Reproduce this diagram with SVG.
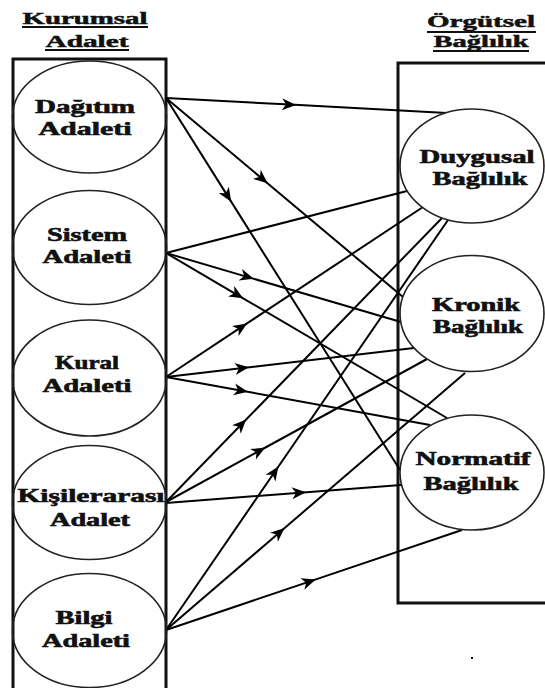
<svg xmlns="http://www.w3.org/2000/svg" width="545" height="688" viewBox="0 0 545 688">
<style>
.t{font-family:"Liberation Serif","Times New Roman",serif;font-weight:bold;font-size:18.5px;fill:#111;stroke:#111;stroke-width:0.6;text-anchor:middle}
.h{font-family:"Liberation Serif","Times New Roman",serif;font-weight:bold;font-size:17px;fill:#111;stroke:#111;stroke-width:0.5;text-anchor:middle}
.box{fill:none;stroke:#111;stroke-width:3}
.el{fill:none;stroke:#222;stroke-width:1.6}
.ul{stroke:#111;stroke-width:2}
.c{fill:none;stroke:#000;stroke-width:2;marker-mid:url(#ah)}
.n{fill:none;stroke:#000;stroke-width:2}
</style>
<defs>
<marker id="ah" viewBox="-9 -7 16 14" refX="0" refY="0" markerWidth="16" markerHeight="14" markerUnits="userSpaceOnUse" orient="auto">
<path d="M6,0 L-8,-6 L-4,0 L-8,6 Z" fill="#000"/>
</marker>
</defs>
<rect width="545" height="688" fill="#fff"/>
<g id="title-left">
<text class="h" x="85" y="24" textLength="125" lengthAdjust="spacingAndGlyphs">Kurumsal</text>
<line class="ul" x1="22" y1="27" x2="148" y2="27"/>
<text class="h" x="87" y="47" textLength="83" lengthAdjust="spacingAndGlyphs">Adalet</text>
<line class="ul" x1="45" y1="50" x2="129" y2="50"/>
</g>
<g id="title-right">
<text class="h" x="481" y="27" textLength="108" lengthAdjust="spacingAndGlyphs">Örgütsel</text>
<line class="ul" x1="427" y1="32" x2="536" y2="32"/>
<text class="h" x="481" y="47" textLength="95" lengthAdjust="spacingAndGlyphs">Bağlılık</text>
<line class="ul" x1="433" y1="51" x2="529" y2="51"/>
</g>
<g id="frame-left"><path class="box" d="M13,700 V59 H166 V700"/></g>
<g id="frame-right"><path class="box" d="M550,63 H398 V603 H550"/></g>
<g id="connectors">
<polyline class="c" points="166,98 290,104.6 447,113"/>
<polyline class="c" points="166,98 263,179.4 403,297"/>
<polyline class="c" points="166,98 228,196.6 400,470"/>
<polyline class="n" points="166,253 407,191"/>
<polyline class="c" points="166,253 248,277.1 401,322"/>
<polyline class="c" points="166,253 238,295.3 447,418"/>
<polyline class="c" points="166,377 242,326.7 423,207"/>
<polyline class="c" points="166,377 243,368 414,348"/>
<polyline class="c" points="166,377 242,390.8 430,425"/>
<polyline class="c" points="166,502 242,423.8 442,218"/>
<polyline class="c" points="166,502 260,450.5 427,359"/>
<polyline class="c" points="166,503 300,492.7 401,485"/>
<polyline class="c" points="166,630 275,471.5 448,220"/>
<polyline class="c" points="166,630 280,532 465,373"/>
<polyline class="c" points="166,630 310,581.4 462,530"/>
</g>
<g id="dagitim">
<ellipse class="el" cx="89.5" cy="117" rx="77" ry="56"/>
<text class="t" x="85" y="113" textLength="100" lengthAdjust="spacingAndGlyphs">Dağıtım</text>
<text class="t" x="85" y="135" textLength="93" lengthAdjust="spacingAndGlyphs">Adaleti</text>
</g>
<g id="sistem">
<ellipse class="el" cx="89.5" cy="247.5" rx="77" ry="57"/>
<text class="t" x="87" y="241" textLength="80" lengthAdjust="spacingAndGlyphs">Sistem</text>
<text class="t" x="87" y="263" textLength="89" lengthAdjust="spacingAndGlyphs">Adaleti</text>
</g>
<g id="kural">
<ellipse class="el" cx="89.5" cy="378" rx="77" ry="58"/>
<text class="t" x="87" y="369" textLength="64" lengthAdjust="spacingAndGlyphs">Kural</text>
<text class="t" x="87" y="392" textLength="89" lengthAdjust="spacingAndGlyphs">Adaleti</text>
</g>
<g id="kisilerarasi">
<ellipse class="el" cx="89.5" cy="502.5" rx="77" ry="57"/>
<text class="t" x="91" y="502" textLength="147" lengthAdjust="spacingAndGlyphs">Kişilerarası</text>
<text class="t" x="90" y="526" textLength="80" lengthAdjust="spacingAndGlyphs">Adalet</text>
</g>
<g id="bilgi">
<ellipse class="el" cx="89.5" cy="630.5" rx="77" ry="57"/>
<text class="t" x="84" y="624" textLength="57" lengthAdjust="spacingAndGlyphs">Bilgi</text>
<text class="t" x="86" y="647" textLength="88" lengthAdjust="spacingAndGlyphs">Adaleti</text>
</g>
<g id="duygusal">
<ellipse class="el" cx="472" cy="166" rx="72" ry="57" fill="#fff" style="fill:#fff"/>
<text class="t" x="477" y="163" textLength="115" lengthAdjust="spacingAndGlyphs">Duygusal</text>
<text class="t" x="480" y="185" textLength="95" lengthAdjust="spacingAndGlyphs">Bağlılık</text>
</g>
<g id="kronik">
<ellipse class="el" cx="472" cy="313.5" rx="72" ry="58" style="fill:#fff"/>
<text class="t" x="476" y="311" textLength="88" lengthAdjust="spacingAndGlyphs">Kronik</text>
<text class="t" x="478" y="333" textLength="90" lengthAdjust="spacingAndGlyphs">Bağlılık</text>
</g>
<g id="normatif">
<ellipse class="el" cx="472" cy="472.5" rx="72" ry="57.5" style="fill:#fff"/>
<text class="t" x="473" y="465" textLength="115" lengthAdjust="spacingAndGlyphs">Normatif</text>
<text class="t" x="471" y="490" textLength="95" lengthAdjust="spacingAndGlyphs">Bağlılık</text>
</g>
<rect x="471" y="657" width="2" height="2" fill="#111"/>
</svg>
